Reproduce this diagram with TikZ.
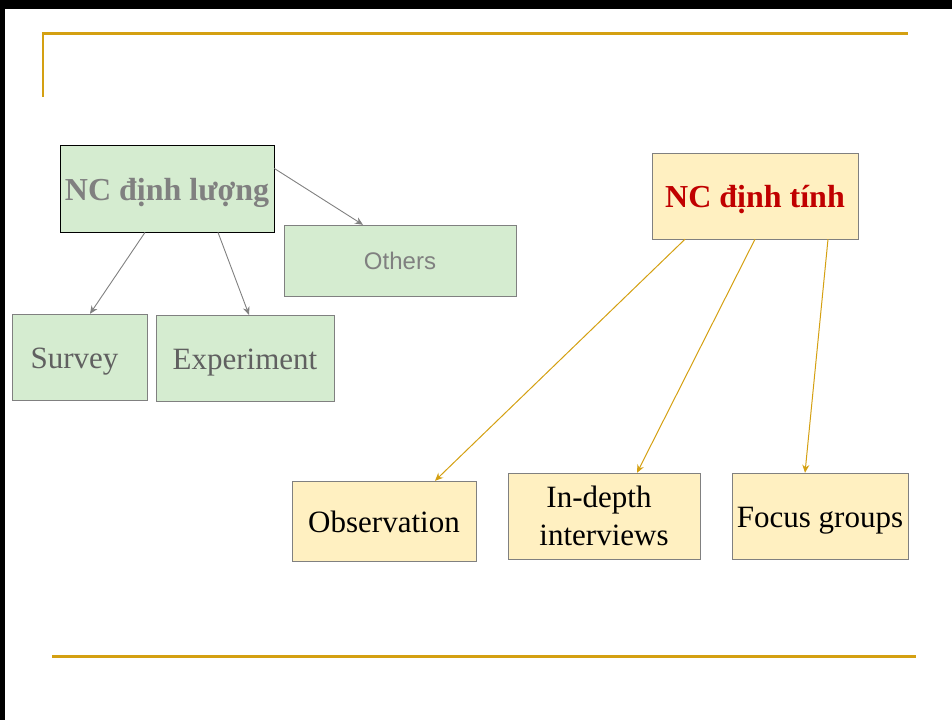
\documentclass[tikz,border=0pt]{standalone}
\usepackage{fontspec}
\setmainfont{Liberation Serif}
\newfontfamily\arialfont{Liberation Sans}
\usetikzlibrary{arrows.meta}

\definecolor{boxgreen}{RGB}{213,236,208}
\definecolor{boxyellow}{RGB}{255,240,193}
\definecolor{goldline}{RGB}{212,160,18}
\definecolor{darkred}{RGB}{192,0,0}
\definecolor{softgray}{RGB}{128,128,128}
\definecolor{textgray}{RGB}{96,96,96}

\tikzset{
  qbox/.style={draw=softgray, fill=boxgreen, inner sep=0pt, text=textgray,
    font=\fontsize{31}{38}\selectfont, align=center},
  lbox/.style={draw=softgray, fill=boxyellow, inner sep=0pt, text=black,
    font=\fontsize{31}{38}\selectfont, align=center},
  oneline/.style={text height=30pt, text depth=7pt},
  garrow/.style={draw=softgray, line width=0.9pt, -{Stealth[length=8pt,width=7pt]}},
  yarrow/.style={draw=goldline, line width=1pt, -{Stealth[length=8pt,width=7pt]}},
}

\begin{document}
\begin{tikzpicture}[x=1pt, y=-1pt]
      \useasboundingbox (0,0) rectangle (952,720);
      % slide frame and rules
      \fill[black] (0,0) rectangle (952,9);
      \fill[black] (0,0) rectangle (5,720);
      \draw[goldline, line width=3pt] (42,33) -- (908,33);
      \draw[goldline, line width=1.5pt] (43,33) -- (43,97);
      \draw[goldline, line width=3pt] (52,656.5) -- (916,656.5);

      % quantitative side
      \node[qbox, oneline, draw=black, line width=0.8pt, text=softgray, minimum width=214pt, minimum height=87pt,
        font=\fontsize{32}{38}\selectfont\bfseries] (quant) at (167,188.5) {NC định lượng};
      \node[qbox, text=softgray, minimum width=232pt, minimum height=71pt,
        font=\fontsize{24}{28}\selectfont\arialfont] (others) at (400,260.5) {Others};
      \node[qbox, oneline, minimum width=135pt, minimum height=86pt] (survey) at (79.5,357) {\kern-10pt Survey};
      \node[qbox, oneline, minimum width=178pt, minimum height=86pt] (experiment) at (245,358) {Experiment};

      \draw[garrow] ([yshift=20pt]quant.east) -- ([xshift=-37pt]others.north);
      \draw[garrow] ([xshift=-22pt]quant.south) -- ([xshift=10.5pt]survey.north);
      \draw[garrow] ([xshift=51pt]quant.south) -- ([xshift=4pt]experiment.north);

      % qualitative side
      \node[lbox, oneline, text=darkred, minimum width=206pt, minimum height=86pt,
        font=\fontsize{32}{38}\selectfont\bfseries] (qual) at (755,196) {NC định tính};
      \node[lbox, oneline, minimum width=184pt, minimum height=80pt] (observation) at (384,521) {Observation};
      \node[lbox, minimum width=192pt, minimum height=86pt] (interviews) at (604,516) {\kern-10pt In-depth\\interviews};
      \node[lbox, oneline, minimum width=176pt, minimum height=86pt] (focus) at (820,516) {Focus groups};

      \draw[yarrow] ([xshift=-70pt]qual.south) -- ([xshift=51pt]observation.north);
      \draw[yarrow] ([xshift=0pt]qual.south) -- ([xshift=33pt]interviews.north);
      \draw[yarrow] ([xshift=73pt]qual.south) -- ([xshift=-15pt]focus.north);
    \end{tikzpicture}
\end{document}
